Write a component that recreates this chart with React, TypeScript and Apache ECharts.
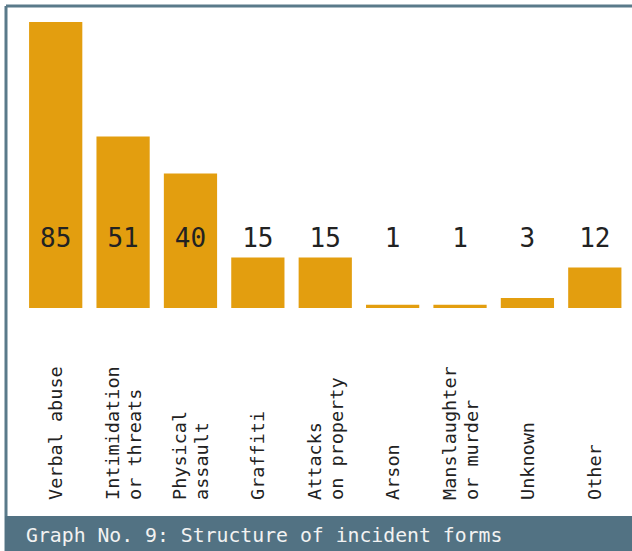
import React, { useEffect, useRef } from "react";
import * as echarts from "echarts";

const categories = [
  "Verbal abuse",
  "Intimidation\nor threats",
  "Physical\nassault",
  "Graffiti",
  "Attacks\non property",
  "Arson",
  "Manslaughter\nor murder",
  "Unknown",
  "Other",
];
const values = [85, 51, 40, 15, 15, 1, 1, 3, 12];
const titleText = "Graph No. 9: Structure of incident forms";

const MONO = "'DejaVu Sans Mono', 'Liberation Mono', monospace";

export default function App() {
  const ref = useRef<HTMLDivElement>(null);
  useEffect(() => {
    if (!ref.current) return;
    const chart = echarts.init(ref.current, undefined, { renderer: "svg" });
    chart.setOption({
      animation: false,
      backgroundColor: "#ffffff",
      grid: { left: 22, right: 3.5, top: 22, bottom: 243, containLabel: false },
      xAxis: {
        type: "category",
        data: categories,
        axisLine: { show: false },
        axisTick: { show: false },
        axisLabel: {
          interval: 0,
          rotate: 90,
          align: "left",
          verticalAlign: "middle",
          margin: 192,
          fontFamily: MONO,
          fontSize: 18.5,
          lineHeight: 22,
          color: "#222222",
        },
      },
      yAxis: {
        type: "value",
        min: 0,
        max: 85,
        show: false,
        splitLine: { show: false },
      },
      series: [
        {
          type: "bar",
          data: values,
          barCategoryGap: "21%",
          itemStyle: { color: "#E39E0F" },
          label: {
            show: true,
            position: "insideBottom",
            distance: 57,
            fontFamily: MONO,
            fontSize: 26,
            color: "#222222",
          },
        },
      ],
      graphic: [
        {
          type: "line",
          shape: { x1: 6, y1: 6, x2: 640, y2: 6 },
          style: { stroke: "#5a7a8a", lineWidth: 3 },
        },
        {
          type: "line",
          shape: { x1: 6, y1: 6, x2: 6, y2: 551 },
          style: { stroke: "#5a7a8a", lineWidth: 3 },
        },
        {
          type: "rect",
          shape: { x: 5, y: 516, width: 640, height: 40 },
          style: { fill: "#527283" },
        },
        {
          type: "text",
          x: 26,
          y: 535,
          style: {
            text: titleText,
            fontFamily: MONO,
            fontSize: 19.8,
            fill: "#f2f2f2",
            textVerticalAlign: "middle",
          },
        },
      ],
    });
    return () => chart.dispose();
  }, []);
  return (
    <div
      ref={ref}
      style={{ position: "fixed", left: 0, top: 0, width: 632, height: 551 }}
    />
  );
}
